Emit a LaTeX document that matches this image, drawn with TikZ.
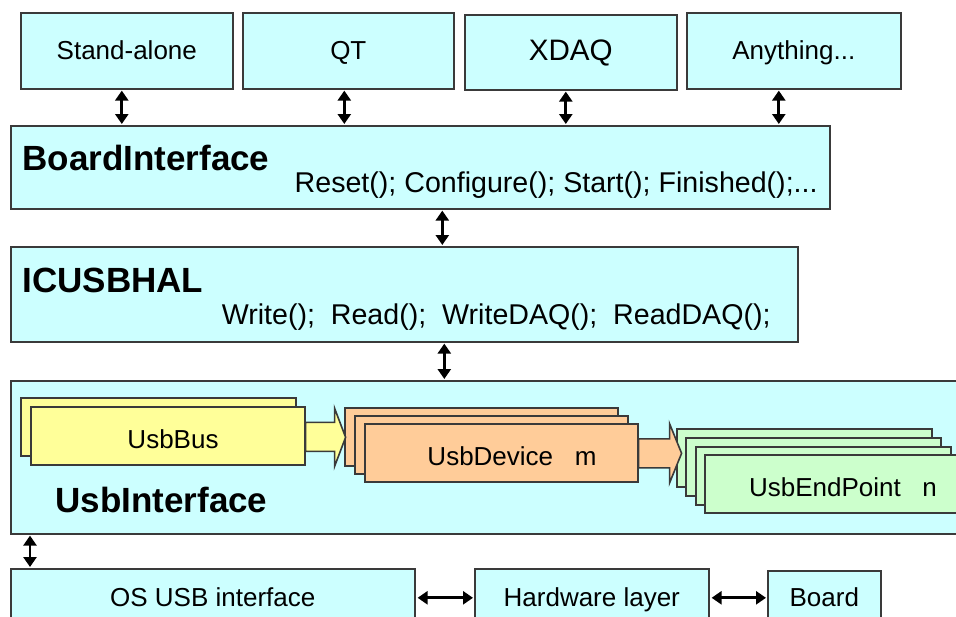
\documentclass[tikz,border=0pt]{standalone}
\usepackage{fontspec}
\setmainfont{Liberation Sans}
\usetikzlibrary{arrows.meta,calc}
\definecolor{layer}{HTML}{CCFFFF}
\definecolor{busfill}{HTML}{FFFF99}
\definecolor{devfill}{HTML}{FFCC99}
\definecolor{epfill}{HTML}{CCFFCC}
\definecolor{edge}{HTML}{3A3A3A}

\begin{document}
\begin{tikzpicture}[x=0.5pt,y=-0.5pt,
  every node/.style={font=\fontsize{13}{15}\selectfont},
  layerbox/.style={draw=edge, fill=layer, line width=0.8pt, anchor=north west, inner sep=0pt,
    text height=2ex, text depth=0.4ex},
  stackbox/.style={draw=edge, line width=0.8pt, anchor=north west, inner sep=0pt, minimum height=29pt},
  layertitle/.style={anchor=west, inner sep=0pt, font=\fontsize{17.5}{20}\selectfont\bfseries},
  calls/.style={anchor=east, inner sep=0pt, font=\fontsize{14.3}{17}\selectfont},
  dbl/.style={{Triangle[length=5pt,width=6.5pt]}-{Triangle[length=5pt,width=6.5pt]}, line width=1.4pt, black},
  blk/.style={draw=edge, line width=0.8pt, line join=miter}]
  \useasboundingbox (0,0) rectangle (956,616);
  \clip (0,0) rectangle (956,616);

  % Applications on top
  \node[layerbox, minimum width=106pt, minimum height=38pt] (sa) at (20,12) {Stand-alone};
  \node[layerbox, minimum width=105.5pt, minimum height=38pt] (qt) at (242,12) {QT};
  \node[layerbox, minimum width=106pt, minimum height=37.5pt, font=\fontsize{14.8}{17}\selectfont] (xdaq) at (464,14) {XDAQ};
  \node[layerbox, minimum width=107pt, minimum height=38pt] (any) at (686,12) {Anything...};

  % BoardInterface
  \node[layerbox, minimum width=409.5pt, minimum height=41.5pt] (board) at (10,125) {};
  \node[layertitle] (boardtitle) at (22,158) {BoardInterface};
  \node[calls] (boardcalls) at (818,185) {Reset(); Configure(); Start(); Finished();...};

  % ICUSBHAL
  \node[layerbox, minimum width=393.5pt, minimum height=47.5pt] (hal) at (10,246) {};
  \node[layertitle] (haltitle) at (22,280) {ICUSBHAL};
  \node[calls] (halcalls) at (771,317) {Write();\ \ Read();\ \ WriteDAQ();\ \ ReadDAQ();};

  % UsbInterface with the object stacks
  \node[layerbox, minimum width=500pt, minimum height=76.5pt] (usbif) at (10,380) {};
  \node[layertitle] (usbiftitle) at (55,500) {UsbInterface};

  \node[stackbox, fill=busfill, minimum width=137.5pt] (bus1) at (20,397) {};
  \node[stackbox, fill=busfill, minimum width=137pt] (bus2) at (30,406) {};
  \node (bustext) at (173,439) {UsbBus};

  \node[stackbox, fill=devfill, minimum width=136.5pt] (dev1) at (344,407) {};
  \node[stackbox, fill=devfill, minimum width=136.5pt] (dev2) at (354,415) {};
  \node[stackbox, fill=devfill, minimum width=136.5pt] (dev3) at (364,423) {};
  \node (devtext) at (512,456) {UsbDevice\ \ \ m};

  \node[stackbox, fill=epfill, minimum width=127.5pt] (ep1) at (676,428) {};
  \node[stackbox, fill=epfill, minimum width=127.5pt] (ep2) at (685,437) {};
  \node[stackbox, fill=epfill, minimum width=127.5pt] (ep3) at (695,446) {};
  \node[stackbox, fill=epfill, minimum width=130pt] (ep4) at (704,454) {};
  \node (eptext) at (843,487) {UsbEndPoint\ \ \ n};

  % block arrows between the stacks
  \draw[blk, fill=busfill] ($(bus2.east)+(0,-13.5)$) -- ++(29,0) -- ++(0,-14) -- ++(11,29)
    -- ++(-11,29) -- ++(0,-15) -- ++(-29,0) -- cycle;
  \draw[blk, fill=devfill] ($(dev3.east)+(0,-14)$) -- ++(31,0) -- ++(0,-15) -- ++(12,29.5)
    -- ++(-12,29.5) -- ++(0,-15) -- ++(-31,0) -- cycle;

  % lower layers
  \node[layerbox, minimum width=202pt, minimum height=29pt] (osusb) at (10,568) {OS USB interface};
  \node[layerbox, minimum width=117pt, minimum height=29pt] (hw) at (474,568) {Hardware layer};
  \node[layerbox, minimum width=56.5pt, minimum height=27pt] (hwboard) at (767,570) {Board};

  % connectors
  \foreach \n/\d in {sa/-5,qt/-4,xdaq/-5,any/-15}
    \draw[dbl] ($(\n.south)+(\d,1)$) -- ($(\n.south |- board.north)+(\d,-1)$);
  \draw[dbl] ($(board.south)+(22,1)$) -- ($(board.south |- hal.north)+(22,-1)$);
  \draw[dbl] ($(hal.south)+(40,1)$) -- ($(hal.south |- usbif.north)+(40,-1)$);
  \draw[dbl] ($(osusb.north west)+(20,-1)$) -- ($(usbif.south west)+(20,1)$);
  \draw[dbl] ($(osusb.east)+(2,0)$) -- ($(hw.west)+(-1,0)$);
  \draw[dbl] ($(hw.east)+(2,0)$) -- ($(hwboard.west)+(-1,0)$);
\end{tikzpicture}
\end{document}
